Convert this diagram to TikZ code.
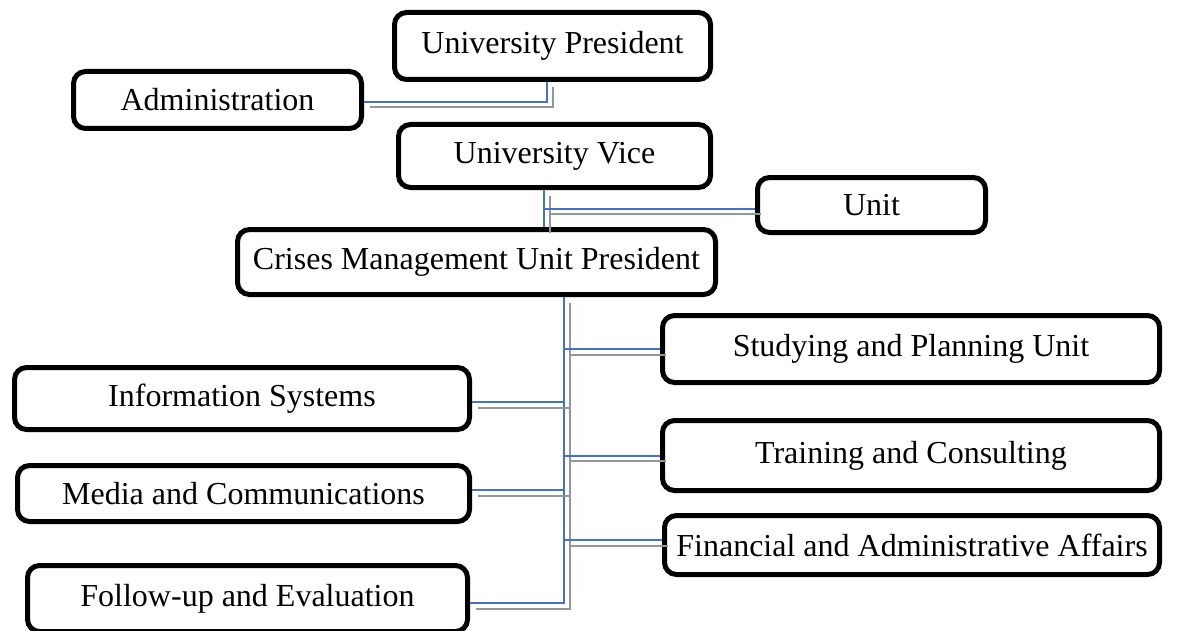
\documentclass[tikz,border=0pt]{standalone}
\usepackage{fontspec}
\setmainfont{Liberation Serif}
\usetikzlibrary{calc,positioning}
\definecolor{linkblue}{RGB}{68,114,196}
\definecolor{linkgray}{RGB}{150,150,150}
\tikzset{
  orgbox/.style={draw, line width=2.5pt, rounded corners=6pt, inner sep=0pt,
                 font=\fontsize{16}{19}\selectfont},
  link/.style={draw=linkblue, line width=1pt},
  linkshade/.style={draw=linkgray, line width=1pt,
                    transform canvas={shift={(3pt,-2.75pt)}}}
}
% Blue connector with its grey copy underneath.
\newcommand{\orglink}[1]{\draw[linkshade] #1; \draw[link] #1;}

\begin{document}
\begin{tikzpicture}[x=0.5pt,y=-0.5pt]
                \useasboundingbox (0,0) rectangle (1178,631);

                % Top of the chart.
                \node[orgbox, minimum width=158pt, minimum height=33.5pt] (pres) at (552.5,46) {University President};
                \node[orgbox, minimum width=144pt, minimum height=28.5pt] (admin) at (217.5,100) {Administration};
                \node[orgbox, minimum width=156pt, minimum height=31.5pt] (vice) at (554.5,156) {University Vice};
                \node[orgbox, minimum width=114pt, minimum height=27.5pt] (unit) at (871.5,205) {Unit};
                \node[orgbox, minimum width=239pt, minimum height=32.5pt] (crises) at (476.5,262) {Crises Management Unit President};

                % Units on the right.
                \node[orgbox, minimum width=248.5pt, minimum height=33.5pt] (study) at (911,349) {Studying and Planning Unit};
                \node[orgbox, minimum width=248.5pt, minimum height=35pt] (train) at (911,455.5) {Training and Consulting};
                \node[orgbox, minimum width=247.5pt, minimum height=29.5pt] (finance) at (912,545) {Financial and Administrative Affairs};

                % Units on the left.
                \node[orgbox, minimum width=227.5pt, minimum height=31pt] (info) at (242,398.5) {Information Systems};
                \node[orgbox, minimum width=226pt, minimum height=28pt] (media) at (243.5,493.5) {Media and Communications};
                \node[orgbox, minimum width=220pt, minimum height=33pt] (follow) at (247.5,598.5) {Follow-up and Evaluation};

                % Drop points and end points of the connectors.
                \coordinate (presdrop) at ([xshift=-2.75pt]pres.south);
                \coordinate (vicedrop) at ([xshift=-5.25pt]vice.south);
                \coordinate (trunk) at ([xshift=43.75pt]crises.south);
                \coordinate (adminin) at ([yshift=-1pt]admin.east);
                \coordinate (unitin) at ([yshift=-1.75pt]unit.west);
                \coordinate (followin) at ([yshift=-2.25pt]follow.east);
                \coordinate (infoin) at ([yshift=-1.75pt]info.east);
                \coordinate (mediain) at ([yshift=1.75pt]media.east);
                \coordinate (financein) at ([yshift=2.5pt]finance.west);

                % Connectors.
                \orglink{(presdrop) |- (adminin)}
                \orglink{(vicedrop) -- (vicedrop |- crises.north)}
                \orglink{(vicedrop |- unitin) -- (unitin)}
                \orglink{(trunk) |- (followin)}
                \orglink{(trunk |- study.west) -- (study.west)}
                \orglink{(trunk |- infoin) -- (infoin)}
                \orglink{(trunk |- train.west) -- (train.west)}
                \orglink{(trunk |- mediain) -- (mediain)}
                \orglink{(trunk |- financein) -- (financein)}
\end{tikzpicture}
\end{document}
